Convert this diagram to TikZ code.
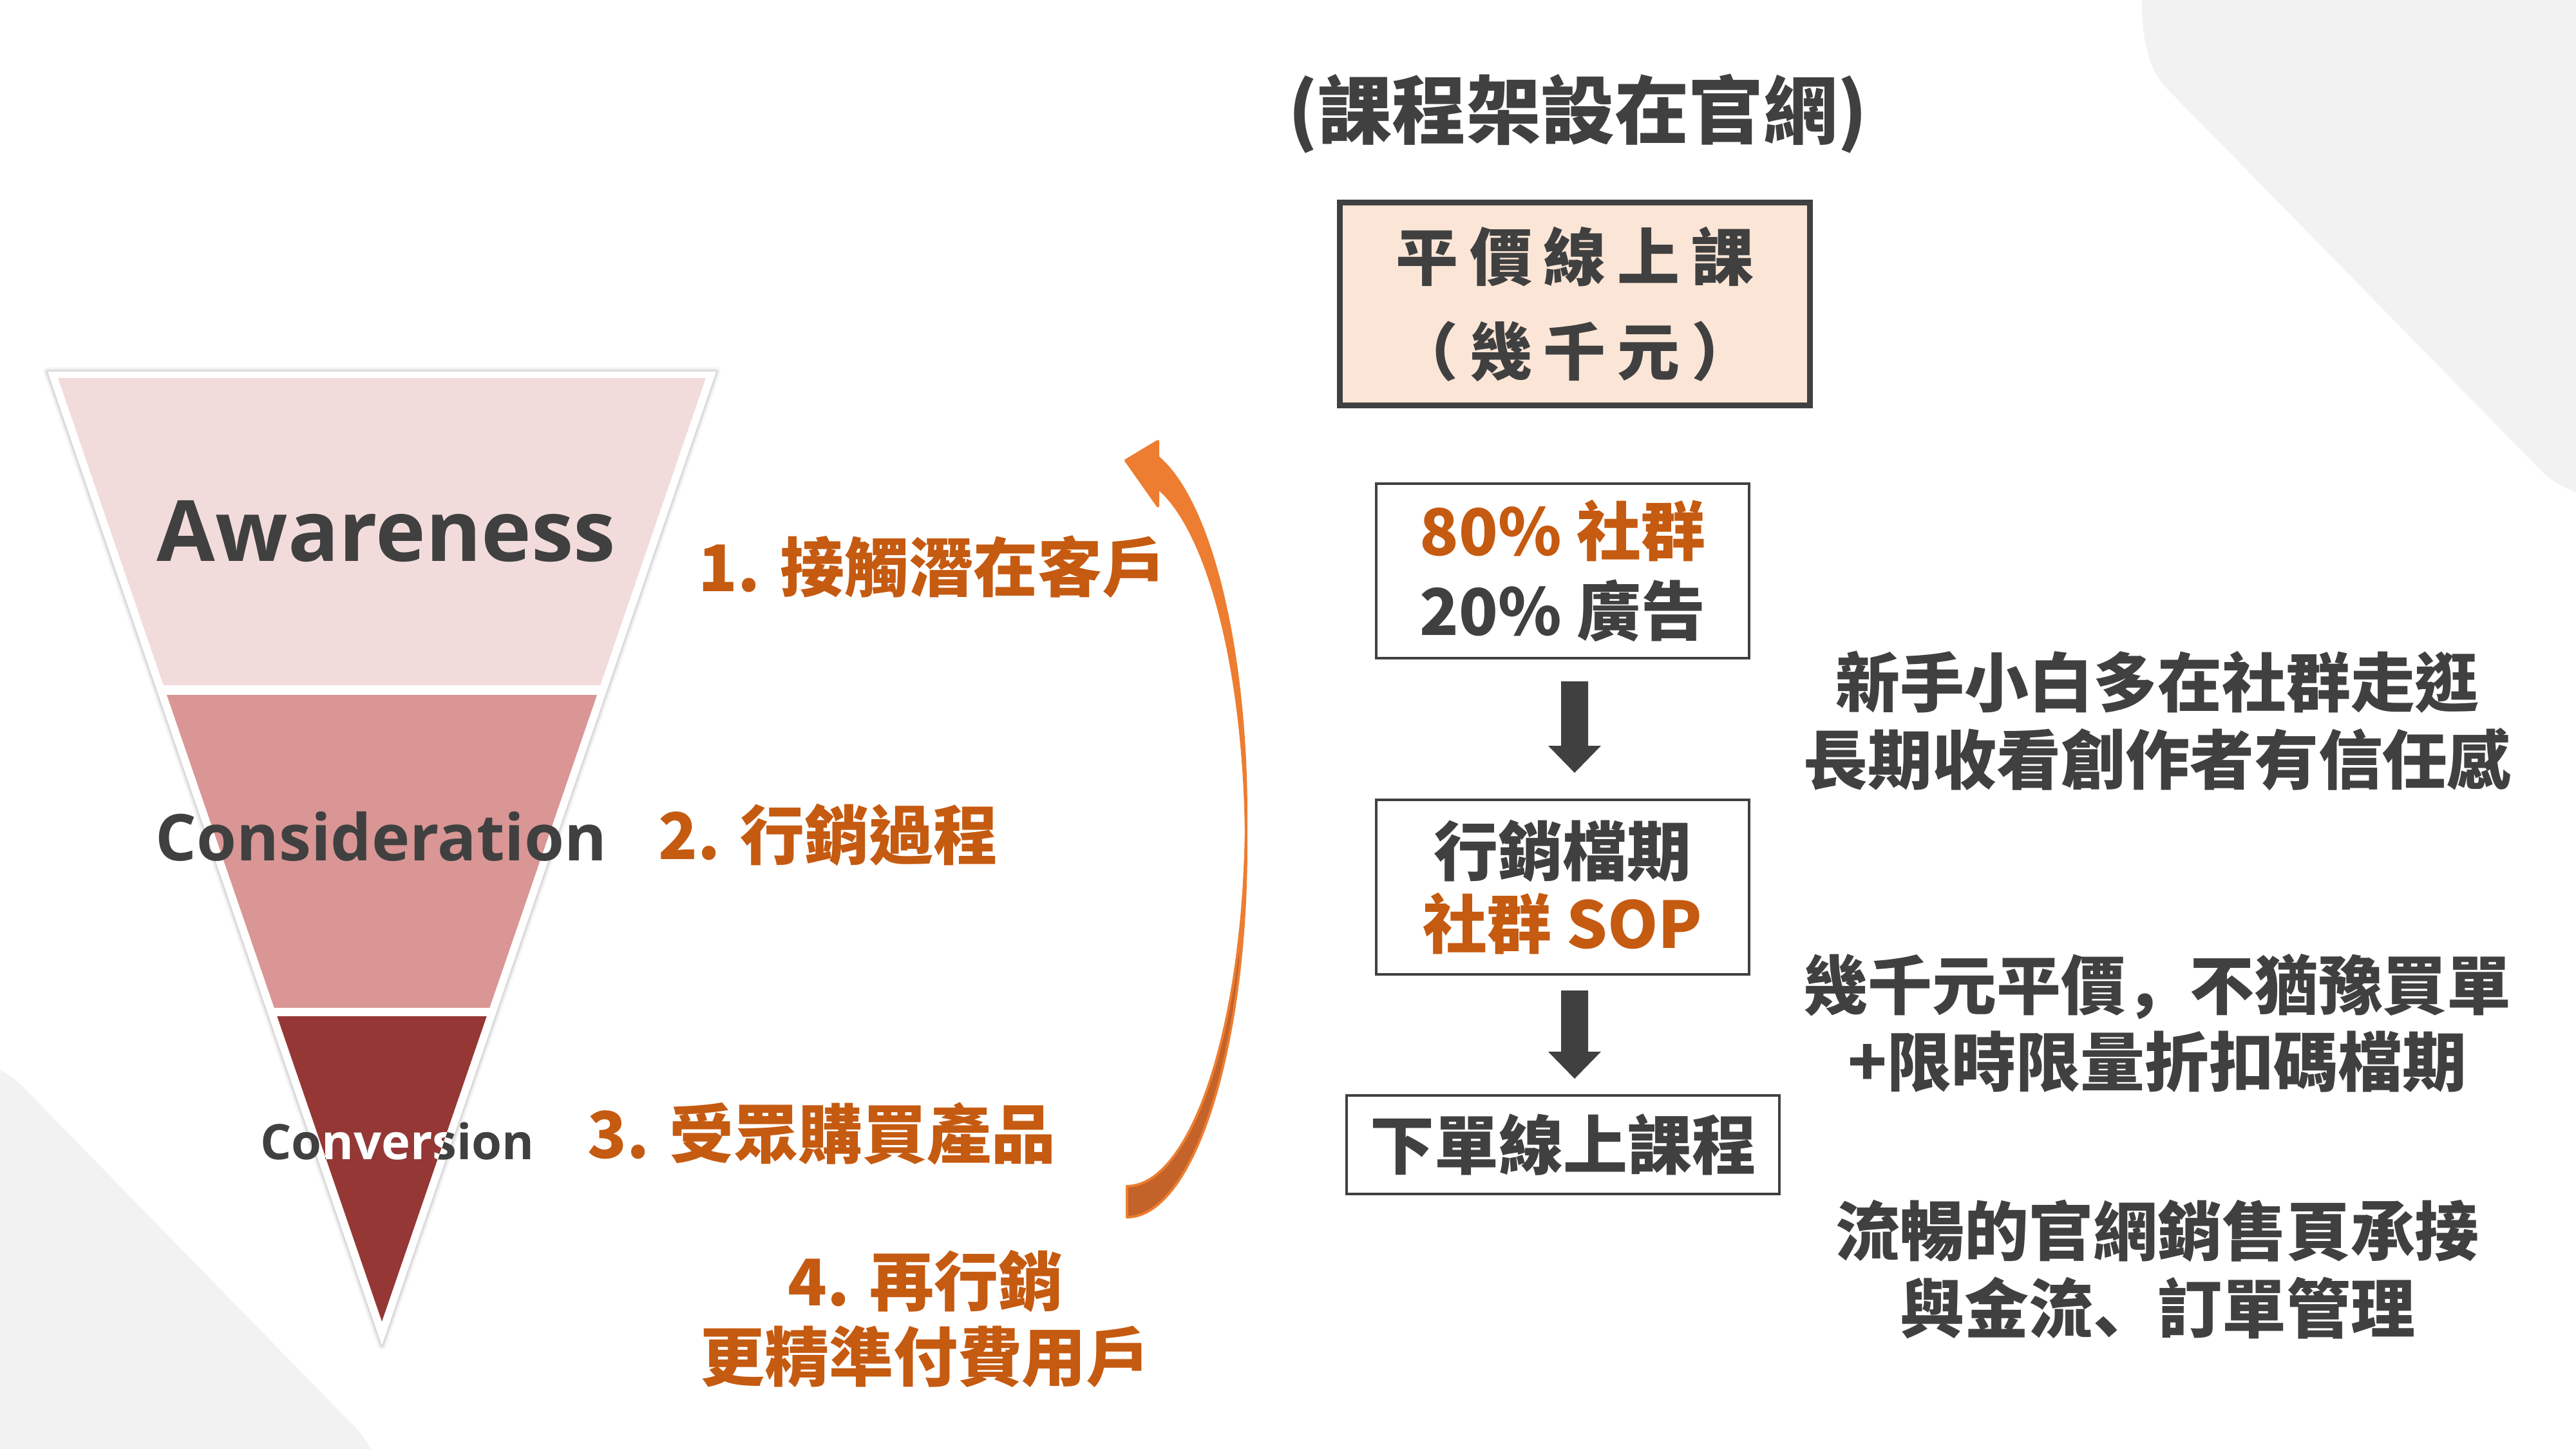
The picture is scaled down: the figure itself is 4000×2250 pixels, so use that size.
\documentclass[tikz,border=0pt]{standalone}
\usepackage{fontspec}
\usetikzlibrary{calc}
\newfontfamily\cjk{Noto Sans CJK TC}
\newfontfamily\cjksc{Noto Sans CJK SC}
\newfontfamily\lat{Open Sans}
\newcommand\lsk{\kern5pt}
\newcommand\punc[1]{{\cjksc\bfseries #1}}
\definecolor{dk}{HTML}{404040}
\definecolor{org}{HTML}{C55A11}
\definecolor{arr}{HTML}{ED7D31}
\definecolor{arrd}{HTML}{C3632A}
\definecolor{peach}{HTML}{FBE5D6}
\definecolor{fa}{HTML}{F2DCDB}
\definecolor{fb}{HTML}{D99694}
\definecolor{fc}{HTML}{953735}
\definecolor{bgg}{HTML}{F2F2F2}
\tikzset{
  cj/.style={inner sep=0pt, text=dk, font=\cjk\bfseries\fontsize{28.45pt}{34pt}\selectfont},
  orglabel/.style={cj, text=org, anchor=west},
  sidetext/.style={cj, align=center},
  flow/.style={draw=dk, line width=0.4mm, inner sep=0pt, align=center},
  funnellabel/.style={inner sep=0pt, text=dk, anchor=base},
}
\begin{document}
\begin{tikzpicture}[x=0.1mm, y=-0.1mm]
\useasboundingbox (0,0) rectangle (4000,2250);
% background decorations
\fill[bgg] (3326,-5) -- (3326,20) .. controls (3330,90) and (3345,120) .. (3375,148)
  -- (3950,735) .. controls (3970,752) and (3990,762) .. (4005,766) -- (4005,-5) -- cycle;
\fill[bgg] (-5,1662) -- (0,1662) .. controls (15,1668) and (28,1680) .. (40,1692)
  -- (555,2220) .. controls (565,2232) and (572,2242) .. (578,2255) -- (-5,2255) -- cycle;
% funnel shadow and white border
\foreach \w/\o in {14/0.03, 9/0.05, 5/0.07}
  \draw[line width=\w*0.1mm, black, opacity=\o, line join=round] (74,577) -- (1112,577) -- (593,2089) -- cycle;
\fill[white] (74,577) -- (1112,577) -- (593,2089) -- cycle;
\begin{scope}
  \clip (90,587) -- (1096,587) -- (593,2052) -- cycle;
  \fill[fa] (0,580) rectangle (1200,1064);
  \fill[fb] (0,1079) rectangle (1200,1565);
  \fill[fc] (0,1578) rectangle (1200,2100);
\end{scope}
% funnel labels
\node[funnellabel, font=\lat\bfseries\fontsize{37.4pt}{40pt}\selectfont] (aw) at (600,871) {Awareness};
\node[funnellabel, font=\lat\bfseries\fontsize{28.5pt}{32pt}\selectfont] (cs) at (592,1336) {Consideration};
\node[funnellabel, font=\lat\bfseries\fontsize{21.6pt}{24pt}\selectfont] (cv) at (617,1800) {Conversion};
\begin{scope}
  \clip (90,587) -- (1096,587) -- (593,2052) -- cycle;
  \clip (0,1578) rectangle (1200,2100);
  \node[funnellabel, text=white, font=\lat\bfseries\fontsize{21.6pt}{24pt}\selectfont] (cvw) at (617,1800) {Conversion};
\end{scope}
% orange step labels
\node[orglabel] (s1) at (1084,880) {1. 接觸潛在客戶};
\node[orglabel] (s2) at (1022,1296) {2. 行銷過程};
\node[orglabel] (s3) at (912,1760) {3. 受眾購買產品};
\node[cj, text=org, align=center, font=\cjk\bfseries\fontsize{28.45pt}{33.3pt}\selectfont] (s4) at (1437,2048) {4. 再行銷\\更精準付費用戶};
% curved orange arrow
\fill[arr, draw=arr, line width=0.4mm, line join=round]
  plot[domain=90:-74.96, samples=90] ({1750+185*cos(\x)}, {1266+576*sin(\x)})
  -- (1798,685) -- (1748,715) -- (1798,786) -- (1798,758)
  -- plot[domain=-74.96:90, samples=90] ({1750+185*cos(\x)}, {1314+576*sin(\x)}) -- cycle;
\fill[arrd, draw=arr, line width=0.35mm, line join=round]
  plot[domain=18:90, samples=50] ({1750+185*cos(\x)}, {1266+576*sin(\x)})
  -- plot[domain=90:18, samples=50] ({1750+185*cos(\x)}, {1314+576*sin(\x)}) -- cycle;
% right column
\node[cj, font=\cjk\bfseries\fontsize{32.8pt}{36pt}\selectfont] (title) at (2450,177) {(課程架設在官網)};
\node[flow, fill=peach, line width=0.9mm, minimum width=73mm, minimum height=31.5mm,
  font=\cjk\bfseries\fontsize{27.6pt}{41.8pt}\selectfont, text=dk] (b1) at (2445.5,472)
  {平\lsk 價\lsk 線\lsk 上\lsk 課\\（\lsk 幾\lsk 千\lsk 元\lsk ）};
\node[flow, minimum width=57.9mm, minimum height=27.1mm,
  font=\cjk\bfseries\fontsize{28.45pt}{35.3pt}\selectfont, text=dk] (b2) at (2426.5,886.5)
  {\textcolor{org}{80\% 社群}\\20\% 廣告};
\node[flow, minimum width=57.9mm, minimum height=27.1mm,
  font=\cjk\bfseries\fontsize{28.45pt}{32.4pt}\selectfont, text=dk] (b3) at (2426.5,1377.5)
  {行銷檔期\\\textcolor{org}{社群 SOP}};
\node[flow, minimum width=67.2mm, minimum height=15.3mm,
  font=\cjk\bfseries\fontsize{28.45pt}{34pt}\selectfont, text=dk] (b4) at (2427,1777.5)
  {下單線上課程};
% block arrows between boxes
\fill[dk] ($(b2.south)+(-2.5,34)$) -- ++(42,0) -- ++(0,100) -- ++(20,0) -- ++(-41,42)
  -- ++(-41,-42) -- ++(20,0) -- cycle;
\fill[dk] ($(b3.south)+(-2.5,23)$) -- ++(42,0) -- ++(0,95) -- ++(20,0) -- ++(-41,42)
  -- ++(-41,-42) -- ++(20,0) -- cycle;
% side notes
\node[sidetext] (n1) at (3350,1119.5) {新手小白多在社群走逛\\長期收看創作者有信任感};
\node[sidetext] (n2) at (3350,1589) {幾千元平價\punc{，}不猶豫買單\\+限時限量折扣碼檔期};
\node[sidetext] (n3) at (3350,1971) {流暢的官網銷售頁承接\\與金流\punc{、}訂單管理};
\end{tikzpicture}
\end{document}
